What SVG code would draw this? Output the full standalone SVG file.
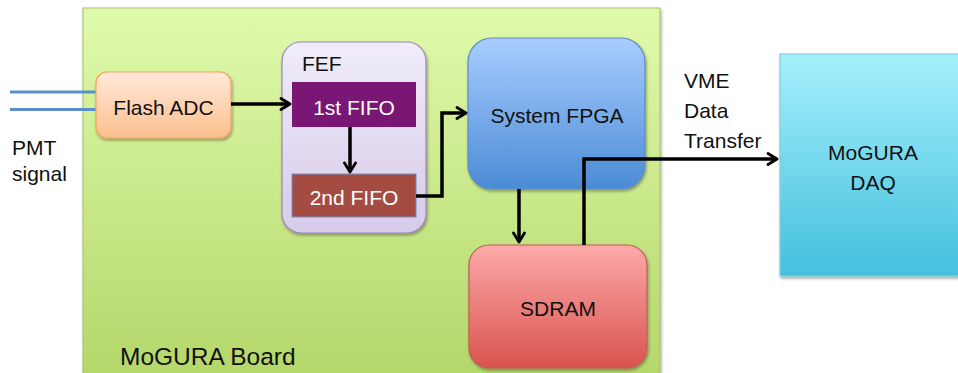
<svg xmlns="http://www.w3.org/2000/svg" width="958" height="373" viewBox="0 0 958 373">
  <defs>
    <linearGradient id="gBoard" x1="0" y1="0" x2="0" y2="1">
      <stop offset="0" stop-color="#E0FAAC"/>
      <stop offset="1" stop-color="#B3D668"/>
    </linearGradient>
    <linearGradient id="gAdc" x1="0" y1="0" x2="0" y2="1">
      <stop offset="0" stop-color="#FFE9DA"/>
      <stop offset="1" stop-color="#FBBF8C"/>
    </linearGradient>
    <linearGradient id="gFef" x1="0" y1="0" x2="0" y2="1">
      <stop offset="0" stop-color="#F0ECF8"/>
      <stop offset="1" stop-color="#D7CBEA"/>
    </linearGradient>
    <linearGradient id="gFpga" x1="0" y1="0" x2="0" y2="1">
      <stop offset="0" stop-color="#A9CDFF"/>
      <stop offset="1" stop-color="#4B8BD5"/>
    </linearGradient>
    <linearGradient id="gSdram" x1="0" y1="0" x2="0" y2="1">
      <stop offset="0" stop-color="#FDAAAA"/>
      <stop offset="1" stop-color="#D9534E"/>
    </linearGradient>
    <linearGradient id="gDaq" x1="0" y1="0" x2="0" y2="1">
      <stop offset="0" stop-color="#A5EFFC"/>
      <stop offset="1" stop-color="#44C0DE"/>
    </linearGradient>
    <filter id="shadow" x="-10%" y="-10%" width="125%" height="125%">
      <feGaussianBlur in="SourceAlpha" stdDeviation="1.6"/>
      <feOffset dx="1" dy="2" result="b"/>
      <feComponentTransfer><feFuncA type="linear" slope="0.35"/></feComponentTransfer>
      <feMerge><feMergeNode/><feMergeNode in="SourceGraphic"/></feMerge>
    </filter>
    <marker id="arrow" viewBox="0 0 14 14" refX="12" refY="7" markerWidth="14" markerHeight="14" markerUnits="userSpaceOnUse" orient="auto">
      <path d="M3,1.5 L12,7 L3,12.5" fill="none" stroke="#000" stroke-width="2.8" stroke-linecap="round" stroke-linejoin="round"/>
    </marker>
  </defs>
  <style>
    text { font-family: "Liberation Sans", Arial, sans-serif; font-size: 21px; fill: #111; }
    .w { fill: #fff; }
    .mid { text-anchor: middle; }
    .big { font-size: 24.5px; }
    .conn { fill: none; stroke: #000; stroke-width: 3.5; }
    .sig { stroke: #5B8FCA; stroke-width: 3; }
  </style>

  <!-- board -->
  <g id="board">
    <rect x="83" y="8" width="577" height="380" fill="url(#gBoard)" stroke="#A3BF6A" stroke-width="1" filter="url(#shadow)"/>
    <text class="big" x="120" y="365">MoGURA Board</text>
  </g>

  <!-- input signal lines -->
  <g id="pmt">
    <line class="sig" x1="10" y1="92" x2="97" y2="92"/>
    <line class="sig" x1="10" y1="109.5" x2="97" y2="109.5"/>
    <text x="12" y="155">PMT</text>
    <text x="12" y="181">signal</text>
  </g>

  <g id="flash-adc">
    <rect x="96" y="72" width="135" height="66" rx="11" fill="url(#gAdc)" stroke="#F5A35A" stroke-width="1.2" filter="url(#shadow)"/>
    <text class="mid" x="163.5" y="115">Flash ADC</text>
  </g>

  <g id="fef">
    <rect x="282" y="42" width="144" height="191" rx="19" fill="url(#gFef)" stroke="#9A86BD" stroke-width="1.2" filter="url(#shadow)"/>
    <text x="302" y="71">FEF</text>
  </g>

  <g id="fifo1">
    <rect x="292" y="82" width="124" height="45" fill="#7A1673"/>
    <text class="mid w" x="354" y="115">1st FIFO</text>
  </g>

  <g id="fifo2">
    <rect x="292" y="174" width="124" height="43" fill="#A54C42" stroke="#6D8FC4" stroke-width="1"/>
    <text class="mid w" x="354" y="205">2nd FIFO</text>
  </g>

  <g id="fpga">
    <rect x="468" y="38" width="177" height="151" rx="24" fill="url(#gFpga)" stroke="#5C8CC8" stroke-width="1.2" filter="url(#shadow)"/>
    <text class="mid" x="557" y="123">System FPGA</text>
  </g>

  <g id="sdram">
    <rect x="469" y="245" width="178" height="123" rx="20" fill="url(#gSdram)" stroke="#C25B57" stroke-width="1.2" filter="url(#shadow)"/>
    <text class="mid" x="558" y="316">SDRAM</text>
  </g>

  <g id="daq">
    <rect x="780" y="54" width="180" height="222" fill="url(#gDaq)" stroke="#7FCFE0" stroke-width="1.2" filter="url(#shadow)"/>
    <text class="mid" x="873" y="160">MoGURA</text>
    <text class="mid" x="873" y="190">DAQ</text>
  </g>

  <g id="vme-label">
    <text x="684" y="88">VME</text>
    <text x="684" y="118">Data</text>
    <text x="684" y="148">Transfer</text>
  </g>

  <!-- connectors -->
  <g id="connectors">
    <path class="conn" d="M231,104 H290" marker-end="url(#arrow)"/>
    <path class="conn" d="M350,127 V172" marker-end="url(#arrow)"/>
    <path class="conn" d="M416,196 H442 V113 H466" marker-end="url(#arrow)"/>
    <path class="conn" d="M519,189 V242" marker-end="url(#arrow)"/>
    <path class="conn" d="M584,245 V159 H777" marker-end="url(#arrow)"/>
  </g>
</svg>
